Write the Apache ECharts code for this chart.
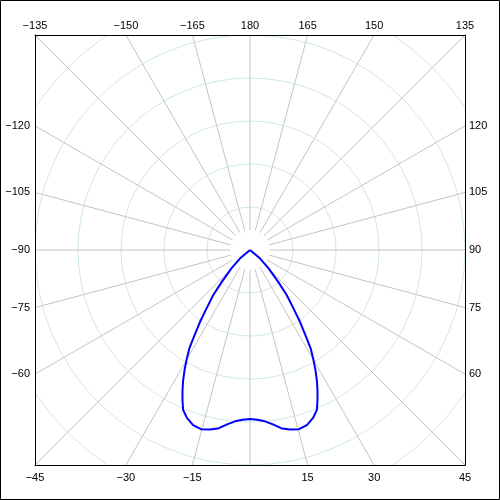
<!DOCTYPE html>
<html>
<head>
<meta charset="utf-8">
<script src="https://cdn.jsdelivr.net/npm/echarts@6/dist/echarts.min.js"></script>
<style>
  html, body { margin: 0; padding: 0; background: #fff; }
  #chart { width: 500px; height: 500px; }
</style>
</head>
<body>
<div id="chart"></div>
<script>
// ---- data (angle in degrees, 0 = down, 90 = right; radius in grid-circle units) ----
var curveAngles = [-90, -50, -45.5, -41.5, -39.2, -36.7, -34.8, -33.1, -31.7, -30, -28.6, -27.2, -25.7, -24.2, -22.7, -20.6, -18, -15.3, -12.6, -10.2, -7.5, -5, -2.5, 0,
                   2.5, 5, 7.5, 10.2, 12.6, 15.3, 18, 20.6, 22.7, 24.2, 25.7, 27.2, 28.6, 30, 31.7, 33.1, 34.8, 36.7, 39.2, 41.5, 45.5, 50, 90];
var curveRadii  = [0, 0.30, 0.60, 0.99, 1.35, 1.68, 2.04, 2.36, 2.68, 2.95, 3.18, 3.40, 3.62, 3.83, 4.03, 4.17, 4.28, 4.32, 4.28, 4.22, 4.09, 4.00, 3.95, 3.93,
                   3.95, 4.00, 4.09, 4.22, 4.28, 4.32, 4.28, 4.17, 4.03, 3.83, 3.62, 3.40, 3.18, 2.95, 2.68, 2.36, 2.04, 1.68, 1.35, 0.99, 0.60, 0.30, 0];

// ---- tick labels around the square frame ----
var topLabels    = [-135, -150, -165, 180, 165, 150, 135];
var bottomLabels = [-45, -30, -15, 15, 30, 45];
var leftLabels   = [-120, -105, -90, -75, -60];
var rightLabels  = [120, 105, 90, 75, 60];

var HALF = 5;                 // grid circles inside the half-width of the square
var DEG = Math.PI / 180;
function rnd(v) { return Math.round(v * 1e9) / 1e9; }
function fmt(a) { return a < 0 ? '\u2212' + Math.abs(a) : String(a); }

// positions of the angle rays where they meet each side of the square (side = [-1, 1])
var topPos    = topLabels.map(function (a) { return rnd(-Math.tan(a * DEG)); });
var bottomPos = bottomLabels.map(function (a) { return rnd(Math.tan(a * DEG)); });
var leftPos   = leftLabels.map(function (a) { return rnd(1 / Math.tan(a * DEG)); });
var rightPos  = rightLabels.map(function (a) { return rnd(-1 / Math.tan(a * DEG)); });

function makeFormatter(pos, labels) {
  return function (v) {
    var best = 0, bd = Infinity;
    for (var i = 0; i < pos.length; i++) {
      var d = Math.abs(pos[i] - v);
      if (d < bd) { bd = d; best = i; }
    }
    return fmt(labels[best]);
  };
}

var curveData = curveAngles.map(function (a, i) { return [curveRadii[i], a]; });

var chart = echarts.init(document.getElementById('chart'), null, { renderer: 'canvas' });

var cx = 250, cy = 250, side = 430;
var outerR = side / 2 * Math.SQRT2;

var labelFont = { fontFamily: 'Liberation Sans, Arial, sans-serif', fontSize: 11, color: '#000' };

function frameAxis(extra) {
  return Object.assign({
    type: 'value', min: -1, max: 1, z: 100,
    axisLine: { show: true, onZero: false, lineStyle: { color: '#000', width: 1 } },
    axisTick: { show: false },
    splitLine: { show: false }
  }, extra);
}

chart.setOption({
  animation: false,
  backgroundColor: '#fff',
  polar: [
    { center: [cx, cy], radius: [0, outerR] },
    { center: [cx, cy], radius: [20, outerR] }
  ],
  angleAxis: [
    { polarIndex: 0, type: 'value', min: -180, max: 180, startAngle: 90, clockwise: false,
      axisLine: { show: false }, axisTick: { show: false }, axisLabel: { show: false }, splitLine: { show: false } },
    { polarIndex: 1, type: 'value', min: -180, max: 180, interval: 15, startAngle: 90, clockwise: false,
      axisLine: { show: false }, axisTick: { show: false }, axisLabel: { show: false },
      splitLine: { show: true, lineStyle: { color: '#c4c4c4', width: 1 } } }
  ],
  radiusAxis: [
    { polarIndex: 0, type: 'value', min: 0, max: HALF * Math.SQRT2, interval: 1,
      axisLine: { show: false }, axisTick: { show: false }, axisLabel: { show: false },
      splitLine: { show: true, lineStyle: { color: '#cfe7ef', width: 1 } } },
    { polarIndex: 1, type: 'value', min: 0, max: 1,
      axisLine: { show: false }, axisTick: { show: false }, axisLabel: { show: false }, splitLine: { show: false } }
  ],
  grid: { left: 35, top: 35, width: side, height: side, show: false },
  xAxis: [
    frameAxis({ position: 'bottom',
      axisLabel: Object.assign({ margin: 7, customValues: bottomPos, formatter: makeFormatter(bottomPos, bottomLabels) }, labelFont) }),
    frameAxis({ position: 'top',
      axisLabel: Object.assign({ margin: 4, customValues: topPos, formatter: makeFormatter(topPos, topLabels) }, labelFont) })
  ],
  yAxis: [
    frameAxis({ position: 'left',
      axisLabel: Object.assign({ margin: 5, padding: [4, 0, 0, 0], customValues: leftPos, formatter: makeFormatter(leftPos, leftLabels) }, labelFont) }),
    frameAxis({ position: 'right',
      axisLabel: Object.assign({ margin: 4, padding: [4, 0, 0, 0], customValues: rightPos, formatter: makeFormatter(rightPos, rightLabels) }, labelFont) })
  ],
  graphic: [
    { type: 'rect', z: 50, silent: true, shape: { x: 0, y: 0, width: 500, height: 35 }, style: { fill: '#fff' } },
    { type: 'rect', z: 50, silent: true, shape: { x: 0, y: 465, width: 500, height: 35 }, style: { fill: '#fff' } },
    { type: 'rect', z: 50, silent: true, shape: { x: 0, y: 35, width: 35, height: 430 }, style: { fill: '#fff' } },
    { type: 'rect', z: 50, silent: true, shape: { x: 465, y: 35, width: 35, height: 430 }, style: { fill: '#fff' } },
    { type: 'rect', z: 120, silent: true, shape: { x: 0.5, y: 0.5, width: 499, height: 499 },
      style: { fill: null, stroke: '#000', lineWidth: 1 } }
  ],
  series: [
    { type: 'line', coordinateSystem: 'polar', polarIndex: 0, data: curveData,
      showSymbol: false, smooth: false, z: 10,
      lineStyle: { color: '#0000ff', width: 2, join: 'round' } }
  ]
});
</script>
</body>
</html>
